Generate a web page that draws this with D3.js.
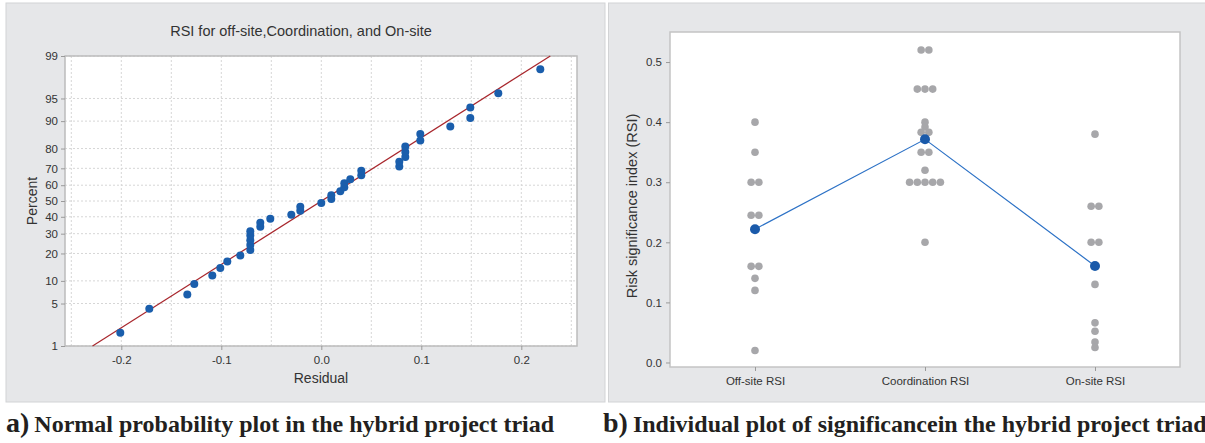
<!DOCTYPE html>
<html>
<head>
<meta charset="utf-8">
<script src="https://cdn.jsdelivr.net/npm/d3@7"></script>
<style>
  body { margin: 0; background: #fff; }
  svg { display: block; }
  .tick text { font-family: "Liberation Sans", Arial, sans-serif; fill: #333; }
</style>
</head>
<body>
<svg id="chart" width="1205" height="443"></svg>
<script>
// ---- data ----
// residuals shown in panel a (sorted later, percent comes from rank)
const residuals = [-0.201, -0.172, -0.134, -0.127, -0.109, -0.101, -0.094, -0.081,
  -0.071, -0.071, -0.071, -0.071, -0.071, -0.061, -0.061, -0.051, -0.030, -0.021, -0.021,
  0.000, 0.010, 0.010, 0.019, 0.023, 0.023, 0.029, 0.040, 0.040, 0.078, 0.078,
  0.084, 0.084, 0.084, 0.099, 0.099, 0.129, 0.149, 0.149, 0.177, 0.219];
const percentTicks = [1, 5, 10, 20, 30, 40, 50, 60, 70, 80, 90, 95, 99];
const residualTicks = [-0.2, -0.1, 0.0, 0.1, 0.2];

// panel b
const categories = ['Off-site RSI', 'Coordination RSI', 'On-site RSI'];
const offsiteRSI = [0.40, 0.35, 0.30, 0.30, 0.245, 0.245, 0.16, 0.16, 0.14, 0.12, 0.02];
const coordinationRSI = [0.52, 0.52, 0.455, 0.455, 0.455, 0.40, 0.392, 0.383, 0.383, 0.373,
  0.35, 0.35, 0.32, 0.30, 0.30, 0.30, 0.30, 0.30, 0.20];
const onsiteRSI = [0.38, 0.26, 0.26, 0.20, 0.20, 0.13, 0.066, 0.052, 0.034, 0.025];
const rsiTicks = [0.0, 0.1, 0.2, 0.3, 0.4, 0.5];

const FONT = '"Liberation Sans", Arial, sans-serif';
const svg = d3.select('#chart');

// inverse normal cdf (Acklam)
function qnorm(p) {
  const a = [-3.969683028665376e+01, 2.209460984245205e+02, -2.759285104469687e+02, 1.383577518672690e+02, -3.066479806614716e+01, 2.506628277459239e+00];
  const b = [-5.447609879822406e+01, 1.615858368580409e+02, -1.556989798598866e+02, 6.680131188771972e+01, -1.328068155288572e+01];
  const c = [-7.784894002430293e-03, -3.223964580411365e-01, -2.400758277161838e+00, -2.549732539343734e+00, 4.374664141464968e+00, 2.938163982698783e+00];
  const d = [7.784695709041462e-03, 3.224671290700398e-01, 2.445134137142996e+00, 3.754408661907416e+00];
  const pl = 0.02425;
  let q, r;
  if (p < pl) {
    q = Math.sqrt(-2 * Math.log(p));
    return (((((c[0]*q+c[1])*q+c[2])*q+c[3])*q+c[4])*q+c[5]) / ((((d[0]*q+d[1])*q+d[2])*q+d[3])*q+1);
  }
  if (p > 1 - pl) {
    q = Math.sqrt(-2 * Math.log(1 - p));
    return -(((((c[0]*q+c[1])*q+c[2])*q+c[3])*q+c[4])*q+c[5]) / ((((d[0]*q+d[1])*q+d[2])*q+d[3])*q+1);
  }
  q = p - 0.5; r = q * q;
  return (((((a[0]*r+a[1])*r+a[2])*r+a[3])*r+a[4])*r+a[5])*q / (((((b[0]*r+b[1])*r+b[2])*r+b[3])*r+b[4])*r+1);
}

// panel backgrounds
svg.append('rect').attr('x', 6).attr('y', 3).attr('width', 599).attr('height', 399)
  .attr('fill', '#e6e7e9').attr('stroke', '#d2d3d5');
svg.append('rect').attr('x', 608.5).attr('y', 3).attr('width', 600).attr('height', 399)
  .attr('fill', '#e6e7e9').attr('stroke', '#d2d3d5');

// ================= panel a : normal probability plot =================
const A = {left: 65, right: 577, top: 56, bottom: 346};
const xA = d3.scaleLinear().domain([-0.2563, 0.2557]).range([A.left, A.right]);
const yA = d3.scaleLinear().domain([qnorm(0.01), qnorm(0.99)]).range([A.bottom, A.top]);

const gA = svg.append('g');
gA.append('rect').attr('x', A.left).attr('y', A.top)
  .attr('width', A.right - A.left).attr('height', A.bottom - A.top)
  .attr('fill', '#fff');

// grid
const xGrid = d3.range(-0.25, 0.2501, 0.05);
gA.append('g').selectAll('line').data(xGrid).join('line')
  .attr('x1', d => xA(d)).attr('x2', d => xA(d))
  .attr('y1', A.top).attr('y2', A.bottom)
  .attr('stroke', '#d6d6d6').attr('stroke-dasharray', '2,2');
gA.append('g').selectAll('line').data(percentTicks).join('line')
  .attr('x1', A.left).attr('x2', A.right)
  .attr('y1', d => yA(qnorm(d / 100))).attr('y2', d => yA(qnorm(d / 100)))
  .attr('stroke', '#d6d6d6').attr('stroke-dasharray', '2,2');

gA.append('rect').attr('x', A.left).attr('y', A.top)
  .attr('width', A.right - A.left).attr('height', A.bottom - A.top)
  .attr('fill', 'none').attr('stroke', '#bcbcbc').attr('stroke-width', 1.5);

// axes
const axA_x = gA.append('g').attr('transform', `translate(0,${A.bottom})`)
  .call(d3.axisBottom(xA).tickValues(residualTicks).tickSize(4).tickPadding(6)
    .tickFormat(d => d.toFixed(1)));
const axA_y = gA.append('g').attr('transform', `translate(${A.left},0)`)
  .call(d3.axisLeft(yA).tickValues(percentTicks.map(p => qnorm(p / 100))).tickSize(4).tickPadding(3)
    .tickFormat((d, i) => percentTicks[i]));
[axA_x, axA_y].forEach(ax => {
  ax.select('.domain').remove();
  ax.selectAll('.tick line').attr('stroke', '#9a9a9a');
  ax.selectAll('.tick text').attr('font-size', 11.5);
});

// fitted line
const mu = d3.mean(residuals), sd = d3.deviation(residuals);
const zLo = qnorm(0.01), zHi = qnorm(0.99);
gA.append('line')
  .attr('x1', xA(mu + zLo * sd)).attr('y1', yA(zLo))
  .attr('x2', xA(mu + zHi * sd)).attr('y2', yA(zHi))
  .attr('stroke', '#a8262c').attr('stroke-width', 1.2);

// points
const sorted = residuals.slice().sort(d3.ascending);
const n = sorted.length;
gA.append('g').selectAll('circle').data(sorted).join('circle')
  .attr('cx', d => xA(d))
  .attr('cy', (d, i) => yA(qnorm((i + 1 - 0.3) / (n + 0.4))))
  .attr('r', 4)
  .attr('fill', '#1a5eac');

gA.append('text').attr('x', 301).attr('y', 36).attr('text-anchor', 'middle')
  .attr('font-family', FONT).attr('font-size', 14.5).attr('fill', '#333')
  .text('RSI for off-site,Coordination, and On-site');
gA.append('text').attr('x', 321).attr('y', 383).attr('text-anchor', 'middle')
  .attr('font-family', FONT).attr('font-size', 14).attr('fill', '#333')
  .text('Residual');
gA.append('text').attr('transform', 'translate(37,201) rotate(-90)').attr('text-anchor', 'middle')
  .attr('font-family', FONT).attr('font-size', 14).attr('fill', '#333')
  .text('Percent');

// ================= panel b : individual value plot =================
const B = {left: 670, right: 1180, top: 32, bottom: 367};
const xB = d3.scalePoint().domain(categories).range([B.left, B.right]).padding(0.5);
const yB = d3.scaleLinear().domain([-0.0075, 0.55]).range([B.bottom, B.top]);

const gB = svg.append('g');
gB.append('rect').attr('x', B.left).attr('y', B.top)
  .attr('width', B.right - B.left).attr('height', B.bottom - B.top)
  .attr('fill', '#fff').attr('stroke', '#c4c4c4').attr('stroke-width', 1.5);

const axB_x = gB.append('g').attr('transform', `translate(0,${B.bottom})`)
  .call(d3.axisBottom(xB).tickSize(4).tickPadding(6));
const axB_y = gB.append('g').attr('transform', `translate(${B.left},0)`)
  .call(d3.axisLeft(yB).tickValues(rsiTicks).tickSize(4).tickPadding(4).tickFormat(d => d.toFixed(1)));
[axB_x, axB_y].forEach(ax => {
  ax.select('.domain').remove();
  ax.selectAll('.tick line').attr('stroke', '#9a9a9a');
  ax.selectAll('.tick text').attr('font-size', 11.5);
});

const groups = [offsiteRSI, coordinationRSI, onsiteRSI];
const dotGap = 7.7;
groups.forEach((vals, gi) => {
  const cx = xB(categories[gi]);
  const bins = d3.group(vals, v => v);
  const pts = [];
  bins.forEach((arr, v) => {
    arr.forEach((_, j) => pts.push({v, off: (j - (arr.length - 1) / 2) * dotGap}));
  });
  gB.append('g').selectAll('circle').data(pts).join('circle')
    .attr('cx', d => cx + d.off).attr('cy', d => yB(d.v))
    .attr('r', 3.8).attr('fill', '#a7a7aa');
});

const means = groups.map((vals, gi) => ({cat: categories[gi], m: d3.mean(vals)}));
gB.append('path').datum(means)
  .attr('d', d3.line().x(d => xB(d.cat)).y(d => yB(d.m)))
  .attr('fill', 'none').attr('stroke', '#2d72c6').attr('stroke-width', 1.2);
gB.append('g').selectAll('circle').data(means).join('circle')
  .attr('cx', d => xB(d.cat)).attr('cy', d => yB(d.m))
  .attr('r', 5).attr('fill', '#1a5aaa');

gB.append('text').attr('transform', 'translate(637,206) rotate(-90)').attr('text-anchor', 'middle')
  .attr('font-family', FONT).attr('font-size', 14.5).attr('fill', '#333')
  .text('Risk significance index (RSI)');

// ================= captions =================
function caption(x, label, body) {
  const t = svg.append('text').attr('x', x).attr('y', 432)
    .attr('font-family', '"Liberation Serif", "Times New Roman", serif')
    .attr('font-weight', 'bold').attr('fill', '#231f20');
  t.append('tspan').attr('font-size', 28).text(label);
  t.append('tspan').attr('font-size', 24).attr('dx', 5).text(body);
}
caption(6, 'a)', 'Normal probability plot in the hybrid project triad');
caption(603, 'b)', 'Individual plot of significancein the hybrid project triad');
</script>
</body>
</html>
